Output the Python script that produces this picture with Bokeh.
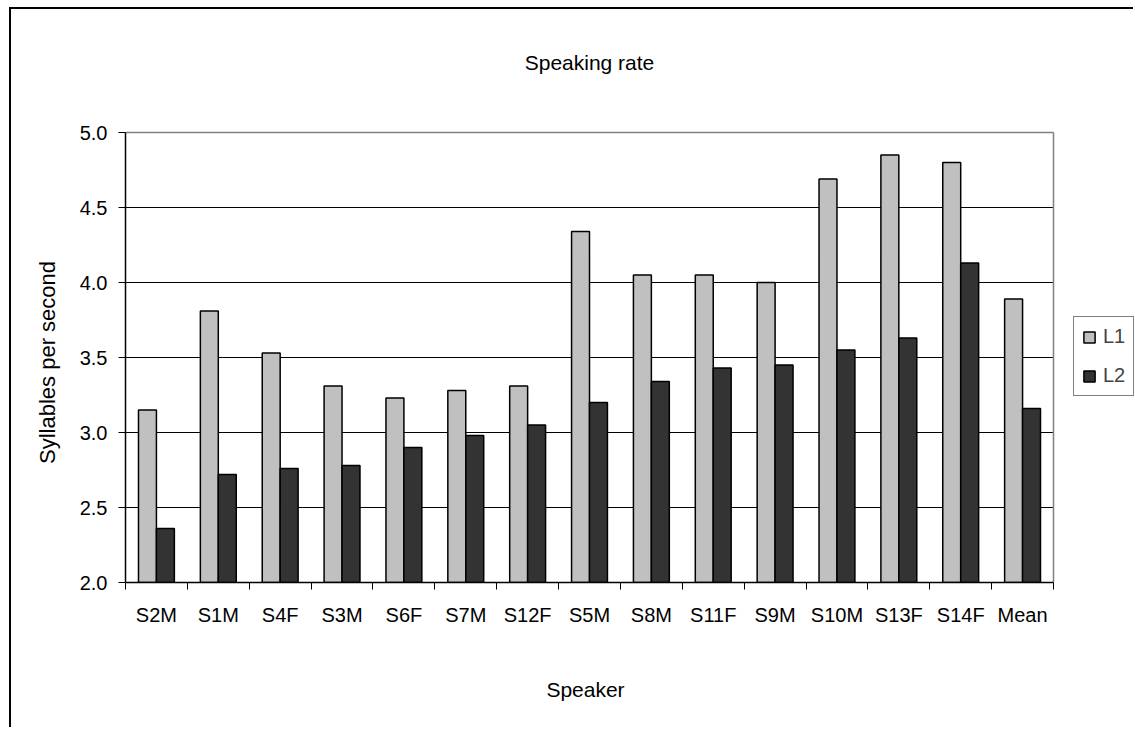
from bokeh.plotting import figure
from bokeh.models import (FixedTicker, Legend, LegendItem, Range1d,
                          NumeralTickFormatter, Label, Title)
from bokeh.embed import file_html
from bokeh.resources import INLINE

# Speaking rate (syllables per second) per speaker, first and second language
speakers = ["S2M", "S1M", "S4F", "S3M", "S6F", "S7M", "S12F", "S5M",
            "S8M", "S11F", "S9M", "S10M", "S13F", "S14F", "Mean"]
l1_rate = [3.15, 3.81, 3.53, 3.31, 3.23, 3.28, 3.31, 4.34,
           4.05, 4.05, 4.00, 4.69, 4.85, 4.80, 3.89]
l2_rate = [2.36, 2.72, 2.76, 2.78, 2.90, 2.98, 3.05, 3.20,
           3.34, 3.43, 3.45, 3.55, 3.63, 4.13, 3.16]
y_ticks = [2.0, 2.5, 3.0, 3.5, 4.0, 4.5, 5.0]

FONT = "Liberation Sans"
GREY_EDGE = "#808080"

# Page geometry (px): canvas origin after the frame border, plot area box
CANVAS_X, CANVAS_Y, CANVAS_W, CANVAS_H = 11, 9, 1124, 720
AREA_L, AREA_R, AREA_T, AREA_B = 125, 1053, 132, 582

n = len(speakers)
y_lo, y_hi = y_ticks[0], y_ticks[-1]
px_per_y = (AREA_B - AREA_T) / (y_hi - y_lo)
px_per_x = (AREA_R - AREA_L) / n
# the drawing frame reaches the canvas top and right edge so the title and
# legend can sit inside it; the value ranges keep the plot area's scale
x_end = (CANVAS_X + CANVAS_W - AREA_L) / px_per_x
y_end = y_hi + (AREA_T - CANVAS_Y) / px_per_y

centers = [i + 0.5 for i in range(n)]
bar_w = 0.29
x_l1 = [c - bar_w / 2 for c in centers]
x_l2 = [c + bar_w / 2 for c in centers]

p = figure(width=CANVAS_W, height=CANVAS_H, title=None,
           x_range=Range1d(0, x_end), y_range=Range1d(y_lo, y_end),
           output_backend="svg", toolbar_location=None,
           min_border_left=AREA_L - CANVAS_X, min_border_right=0,
           min_border_top=0, min_border_bottom=CANVAS_Y + CANVAS_H - AREA_B)
p.styles = {"margin-left": "9px", "margin-top": "7px",
            "border-left": "2px solid black", "border-top": "2px solid black"}

p.background_fill_color = "white"
p.border_fill_color = "white"
p.outline_line_color = None
p.xgrid.visible = False
p.ygrid.visible = False

# Horizontal gridlines
grid_y = y_ticks[1:-1]
p.segment(x0=[0] * len(grid_y), x1=[n] * len(grid_y), y0=grid_y, y1=grid_y,
          line_color="black", line_width=1)

# Plot area edge (top and right)
p.segment(x0=[0, n], x1=[n, n], y0=[y_hi, y_lo], y1=[y_hi, y_hi],
          line_color=GREY_EDGE, line_width=1.5)

# Bars
r1 = p.vbar(x=x_l1, top=l1_rate, bottom=0, width=bar_w,
            fill_color="#C0C0C0", line_color="black", line_width=1.5)
r2 = p.vbar(x=x_l2, top=l2_rate, bottom=0, width=bar_w,
            fill_color="#333333", line_color="black", line_width=1.5)

# Chart title
title = Label(x=n / 2, y=y_hi + (AREA_T - 62) / px_per_y, text="Speaking rate",
              text_align="center", text_baseline="alphabetic",
              text_font=FONT, text_font_size="21px", text_color="black")
p.add_layout(title)

# Y axis
yax = p.yaxis[0]
yax.bounds = (y_lo, y_hi)
yax.ticker = FixedTicker(ticks=y_ticks)
yax.formatter = NumeralTickFormatter(format="0.0")
yax.axis_line_color = "black"
yax.axis_line_width = 1.5
yax.major_tick_in = 0
yax.major_tick_out = 7
yax.major_tick_line_color = "black"
yax.minor_tick_line_color = None
yax.major_label_standoff = 11
yax.major_label_text_font = FONT
yax.major_label_text_font_size = "20px"
yax.major_label_text_color = "black"

# X axis: labels at category centres, tick marks at category boundaries
xax = p.xaxis[0]
xax.bounds = (0, n)
xax.ticker = FixedTicker(ticks=centers, minor_ticks=list(range(n + 1)))
xax.major_label_overrides = {c: s for c, s in zip(centers, speakers)}
xax.axis_line_color = "black"
xax.axis_line_width = 1.5
xax.major_tick_line_color = None
xax.major_tick_in = 0
xax.major_tick_out = 7
xax.minor_tick_line_color = "black"
xax.minor_tick_in = 0
xax.minor_tick_out = 7
xax.major_label_standoff = 14
xax.major_label_text_font = FONT
xax.major_label_text_font_size = "20px"
xax.major_label_text_color = "black"

# Axis titles, centred on the plot area
y_font_px = 22
y_title_len = 9.226 * y_font_px        # advance width of the text in em
plot_mid_y = (AREA_T + AREA_B) / 2 + 5
y_title = Title(text="Syllables per second", align="left",
                offset=AREA_B - (plot_mid_y + y_title_len / 2), standoff=34,
                text_font=FONT, text_font_size=f"{y_font_px}px",
                text_font_style="normal", text_color="black")
p.add_layout(y_title, "left")

x_font_px = 21
x_title_len = 3.724 * x_font_px
plot_mid_x = (AREA_L + AREA_R) / 2 - 4
# the leading empty line keeps the title clear of the category labels
x_title = Title(text="\nSpeaker", align="left",
                offset=plot_mid_x - x_title_len / 2 - AREA_L, standoff=48,
                text_font=FONT, text_font_size=f"{x_font_px}px",
                text_font_style="normal", text_color="black")
p.add_layout(x_title, "below")

# Legend to the right of the plot area
legend = Legend(items=[LegendItem(label="L1", renderers=[r1]),
                       LegendItem(label="L2", renderers=[r2])],
                location=(1073 - AREA_L, AREA_B - 396), orientation="vertical")
legend.border_line_color = "black"
legend.border_line_width = 1
legend.background_fill_color = "white"
legend.background_fill_alpha = 1
legend.glyph_width = 14
legend.glyph_height = 14
legend.label_text_font = FONT
legend.label_text_font_size = "20px"
legend.label_standoff = 7
legend.padding = 8
legend.spacing = 16
legend.margin = 0
p.add_layout(legend, "center")

open("out.html", "w").write(file_html(p, INLINE))
